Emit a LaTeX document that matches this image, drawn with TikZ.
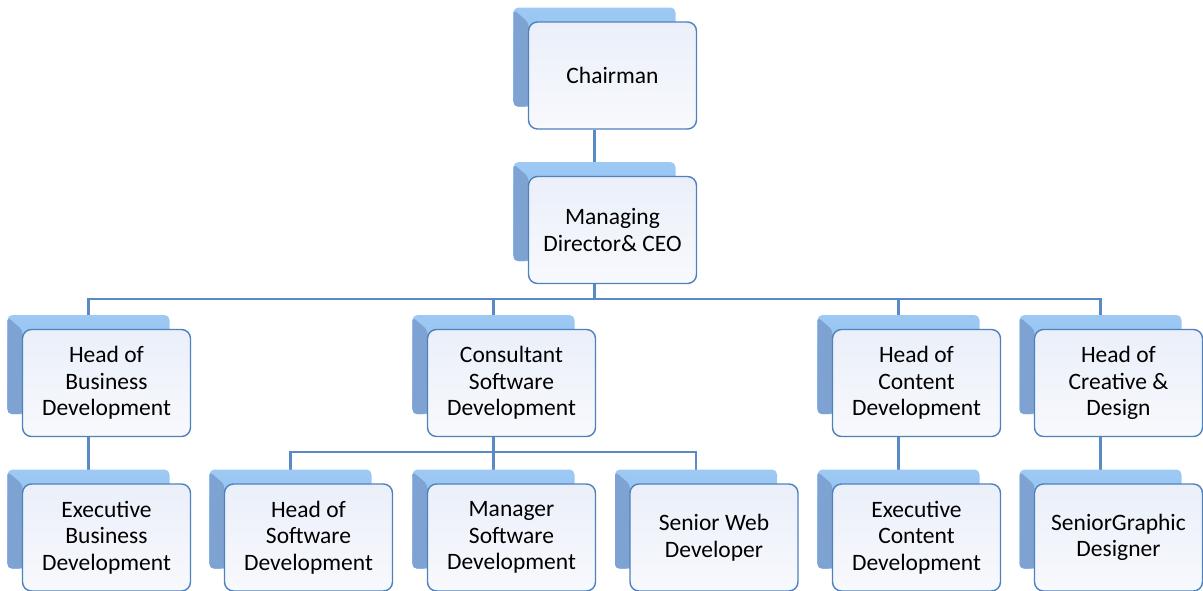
\documentclass[tikz,border=0pt]{standalone}
\usepackage{fontspec}
\setmainfont{Carlito}
\usetikzlibrary{calc,backgrounds}

\definecolor{boxline}{HTML}{4F81BD}
\definecolor{boxtop}{HTML}{EAEFF9}
\definecolor{boxbot}{HTML}{F8F9FD}
\definecolor{shadetop}{HTML}{9DC9F4}
\definecolor{shadebot}{HTML}{88B4E8}
\definecolor{shadeside}{HTML}{7EA3D3}
\definecolor{linkblue}{HTML}{5A8AC6}

\tikzset{
	staff/.style={draw=boxline, line width=1.4pt, rounded corners=9pt, top color=boxtop, bottom color=boxbot,
		minimum width=168pt, minimum height=107pt, align=center, inner sep=0pt,
		font=\fontsize{23.5}{26.7}\selectfont},
	link/.style={draw=linkblue, line width=2.2pt},
}

% shadow block behind a box, then the box itself
\newcommand\staffbox[4]{%
	\shade[top color=shadetop, bottom color=shadebot, rounded corners=5pt] (#2-99,#3-68) rectangle (#2+63,#3+31);
	\fill[shadeside, rounded corners=4pt] (#2-99,#3-66) -- (#2-84,#3-53) -- (#2-84,#3+31) -- (#2-99,#3+31) -- cycle;
	\node[staff] (#1) at (#2,#3) {#4};
}

\begin{document}
\begin{tikzpicture}[x=1pt, y=-1pt]
			%%%%% START %%%%%
			\useasboundingbox (0,0) rectangle (1203,590);
			
			\staffbox{chair}{612.5}{75.5}{Chairman}
			\staffbox{md}{612.5}{230}{Managing\\Director\& CEO}
			
			\staffbox{hbd}{106.5}{383}{Head of\\Business\\Development}
			\staffbox{csd}{511.5}{383}{Consultant\\Software\\Development}
			\staffbox{hcd}{916.5}{383}{Head of\\Content\\Development}
			\staffbox{hcr}{1118.5}{383}{Head of\\Creative \&\\Design}
			
			\staffbox{ebd}{106.5}{537.5}{Executive\\Business\\Development}
			\staffbox{hsd}{308.5}{537.5}{Head of\\Software\\Development}
			\staffbox{msd}{511.5}{537.5}{Manager\\Software\\Development}
			\staffbox{swd}{714}{537.5}{Senior Web\\Developer}
			\staffbox{ecd}{916.5}{537.5}{Executive\\Content\\Development}
			\staffbox{sgd}{1118.5}{537.5}{SeniorGraphic\\Designer}
			
			\begin{scope}[on background layer]
				\draw[link] ([xshift=-18pt]chair.south) -- ([xshift=-18pt]md.north);
				\foreach \n in {hbd,csd,hcd,hcr}
					\draw[link] ([xshift=-18pt]md.south) -- ++(0,15) -| ([xshift=-18pt]\n.north);
				\foreach \n in {hsd,msd,swd}
					\draw[link] ([xshift=-18pt]csd.south) -- ++(0,15) -| ([xshift=-18pt]\n.north);
				\draw[link] ([xshift=-18pt]hbd.south) -- ([xshift=-18pt]ebd.north);
				\draw[link] ([xshift=-18pt]hcd.south) -- ([xshift=-18pt]ecd.north);
				\draw[link] ([xshift=-18pt]hcr.south) -- ([xshift=-18pt]sgd.north);
			\end{scope}
			%%%%% END %%%%%
\end{tikzpicture}
\end{document}
